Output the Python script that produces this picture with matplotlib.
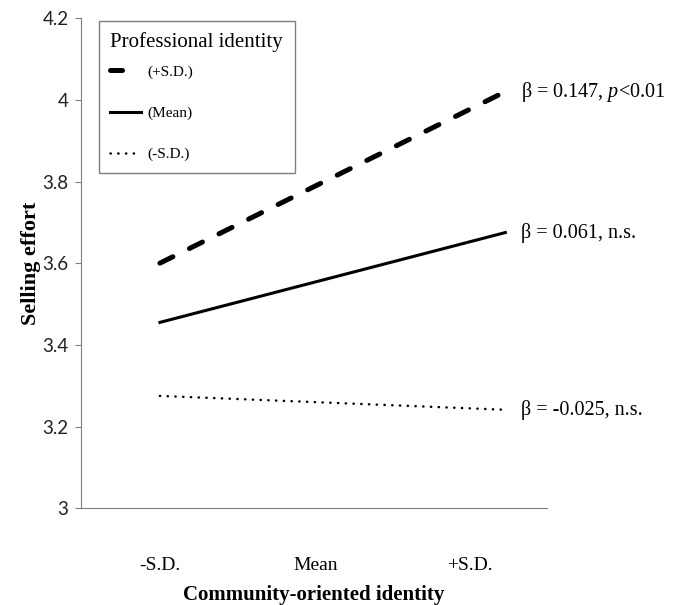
import matplotlib
matplotlib.use("Agg")
import matplotlib.pyplot as plt

plt.rcParams['font.family'] = ['Liberation Serif', 'DejaVu Serif']
plt.rcParams['mathtext.fontset'] = 'custom'
plt.rcParams['mathtext.rm'] = 'Liberation Serif'
plt.rcParams['mathtext.it'] = 'Liberation Serif:italic'

# data
x_labels = ['-S.D.', 'Mean', '+S.D.']
high_sd = [3.60, 3.81, 4.02]
mean_sd = [3.455, 3.565, 3.675]
low_sd = [3.275, 3.258, 3.241]
series_names = ['(+S.D.)', '(Mean)', '(-S.D.)']
slope_notes = [r'β = 0.147, $p$<0.01', 'β = 0.061, n.s.', 'β = -0.025, n.s.']
y_ticks = [3, 3.2, 3.4, 3.6, 3.8, 4, 4.2]
y_ticklabels = ['3', '3.2', '3.4', '3.6', '3.8', '4', '4.2']

fig = plt.figure(figsize=(6.79, 6.05), dpi=100)
ax = fig.add_axes([0.119, 0.160, 0.687, 0.810])

x = list(range(len(x_labels)))
l1, = ax.plot(x, high_sd, color='black', lw=3.6, dash_capstyle='round')
l1.set_dashes((2.9, 3.7))
l2, = ax.plot(x, mean_sd, color='black', lw=2.2)
l3, = ax.plot(x, low_sd, color='black', lw=1.8, dash_capstyle='round')
l3.set_dashes((0.1, 3.0))

# slope labels to the right of the line ends
for vals, note in zip([high_sd, mean_sd, low_sd], slope_notes):
    ax.annotate(note, xy=(x[-1], vals[-1]), xytext=(11, 0), textcoords='offset points',
                va='center', ha='left', fontsize=14.5, annotation_clip=False)

ax.set_xlim(-0.458, 2.243)
ax.set_ylim(3, 4.2)
ax.set_yticks(y_ticks)
ax.set_yticklabels(y_ticklabels, fontfamily='Lato')
# category labels sit slightly inside the line ends, as in the original
ax.set_xticks([0, 0.904, 1.797])
ax.set_xticklabels(x_labels)
ax.tick_params(axis='y', labelsize=13.5, length=4.3, pad=4.5, color='#7f7f7f', labelcolor='#222222')
ax.tick_params(axis='x', labelsize=14, length=0, pad=35)
ax.spines['top'].set_visible(False)
ax.spines['right'].set_visible(False)
ax.spines['left'].set_color('#7f7f7f')
ax.spines['bottom'].set_color('#7f7f7f')

ax.set_xlabel('Community-oriented identity', fontsize=15, fontweight='bold', labelpad=8)
ax.set_ylabel('Selling effort', fontsize=16, fontweight='bold', labelpad=1)

leg = ax.legend([l1, l2, l3], series_names, title='Professional identity', loc='upper left',
                bbox_to_anchor=(99 / 679, 1 - 21 / 605), bbox_transform=fig.transFigure,
                borderaxespad=0, fontsize=11, title_fontsize=15,
                handlelength=2.0, handletextpad=0.4, labelspacing=1.8,
                fancybox=False, edgecolor='#7f7f7f', framealpha=1, borderpad=0.75)
leg._legend_box.align = 'left'
leg._legend_box.sep = 9
leg.get_frame().set_linewidth(1)
# dashed handle shows a single dash, as in the original key
leg.get_lines()[0].set_dashes((2.4, 10))

fig.savefig('out.png', dpi=100)
